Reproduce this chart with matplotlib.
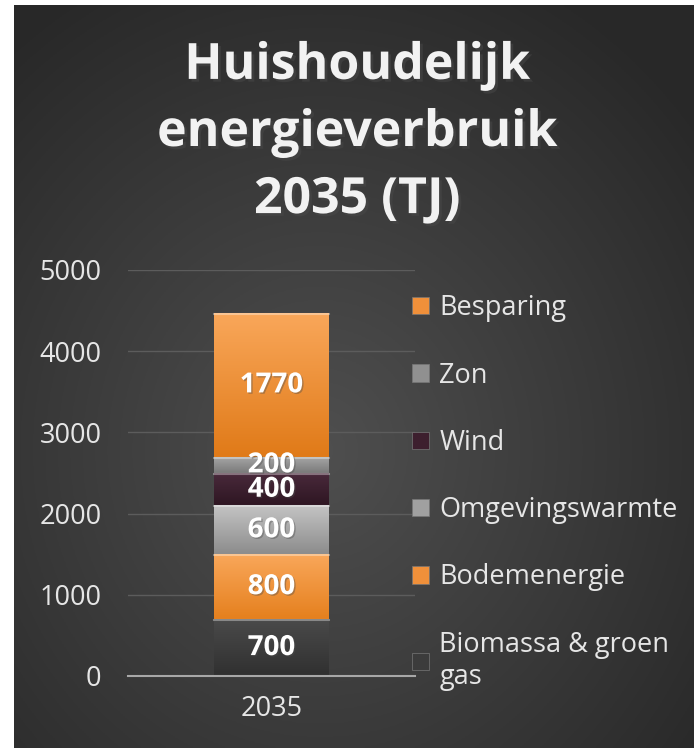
import matplotlib.pyplot as plt
import matplotlib.patheffects as pe
from matplotlib.patches import Patch
import numpy as np

# data
category = ["2035"]
series = ["Biomassa & groen\ngas", "Bodemenergie", "Omgevingswarmte", "Wind", "Zon", "Besparing"]
values = [700, 800, 600, 400, 200, 1770]
top_colors = ["#4a4a4a", "#f9a75a", "#c4c4c4", "#4a2a3c", "#a8a8a8", "#f9a75a"]
bot_colors = ["#303030", "#e5801e", "#8c8c8c", "#2e1622", "#7a7a7a", "#e07a18"]
legend_colors = ["#3c3c3c", "#f0903a", "#a0a0a0", "#3d1f2e", "#909090", "#f0903a"]

W, H = 694, 748
fig = plt.figure(figsize=(W / 100, H / 100), dpi=100, facecolor="white")

# dark panel with radial gradient
bg = fig.add_axes([14 / W, 0, 680 / W, 743 / H])
yy, xx = np.mgrid[0:1:300j, 0:1:300j]
r = np.sqrt(((xx - 0.45) / 0.75) ** 2 + ((yy - 0.4) / 0.75) ** 2)
shade = np.clip(0.31 - 0.16 * r, 0.16, 0.31)
bg.imshow(np.dstack([shade] * 3), extent=[0, 1, 0, 1], aspect="auto", origin="lower")
bg.axis("off")

ax = fig.add_axes([128 / W, 1 - 676 / H, 287 / W, 406 / H])
ax.set_facecolor("none")
ax.set_yticks(range(0, 5001, 1000))
ax.grid(axis="y", color="#5c5c5c", lw=1)
ax.set_axisbelow(True)
for s in ["left", "right", "top"]:
    ax.spines[s].set_visible(False)
ax.spines["bottom"].set_color("#a8a8a8")
ax.spines["bottom"].set_linewidth(1.5)
ax.tick_params(length=0, colors="#e6e6e6", labelsize=19.5, pad=19)
ax.tick_params(axis="x", pad=14)
ax.set_xticks([0])
ax.set_xticklabels(category)
for lab in ax.get_yticklabels() + ax.get_xticklabels():
    lab.set_fontfamily("Open Sans")

bottom = 0
for v, c1, c2 in zip(values, top_colors, bot_colors):
    bars = ax.bar(0, v, 0.4, bottom=bottom, color="none", edgecolor="none")
    rect = bars[0]
    g = np.linspace(0, 1, 100)[:, None]
    a = np.array(plt.matplotlib.colors.to_rgb(c1))
    b = np.array(plt.matplotlib.colors.to_rgb(c2))
    img = (b[None, None, :] * (1 - g[..., None]) + a[None, None, :] * g[..., None])
    img = np.repeat(img, 2, axis=1)
    im = ax.imshow(img, extent=[-0.2, 0.2, bottom, bottom + v], origin="lower",
                   aspect="auto", zorder=2)
    im.set_clip_path(rect)
    ax.plot([-0.2, 0.2], [bottom + v - 12, bottom + v - 12], color="white", alpha=0.35,
            lw=1.5, zorder=3)
    ax.text(0, bottom + v / 2, str(v), ha="center", va="center", color="white",
            fontsize=20, fontweight="bold", family="Open Sans", zorder=4,
            path_effects=[pe.withSimplePatchShadow(offset=(1, -1), alpha=0.4)])
    bottom += v
ax.set_xlim(-0.5, 0.5)
ax.set_ylim(0, 5000)

handles = [Patch(facecolor=c, edgecolor="#777777", lw=0.5) for c in legend_colors]
leg = fig.legend(handles[::-1], series[::-1], loc="upper left",
                 bbox_to_anchor=(388 / W, 1 - 270 / H), frameon=False,
                 labelspacing=1.45, handlelength=0.6, handleheight=0.6,
                 handletextpad=0.4, prop={"family": "Open Sans", "size": 19.5})
for t in leg.get_texts():
    t.set_color("#e6e6e6")

fig.text(0.515, 1 - 133 / H, "Huishoudelijk\nenergieverbruik\n2035 (TJ)", ha="center",
         va="center", color="#f2f2f2", fontsize=36, fontweight="bold",
         family="Open Sans", linespacing=1.45,
         path_effects=[pe.withSimplePatchShadow(offset=(2, -2), alpha=0.5)])

fig.savefig("out.png", dpi=100, facecolor="white")
